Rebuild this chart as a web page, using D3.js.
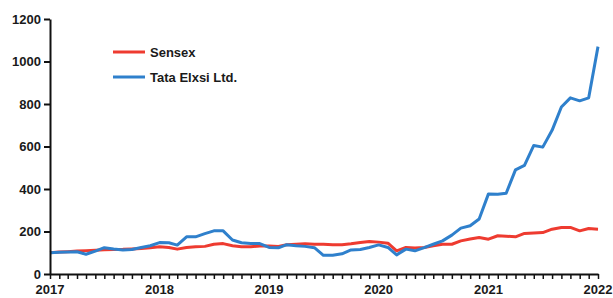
<!DOCTYPE html>
<html>
<head>
<meta charset="utf-8">
<script src="https://cdn.jsdelivr.net/npm/d3@7"></script>
<style>
  body { margin: 0; background: #fff; }
  svg text { font-family: "Liberation Sans", Arial, sans-serif; font-weight: bold; fill: #1a1a1a; }
</style>
</head>
<body>
<div id="chart"></div>
<script>
// monthly points, Jan 2017 .. Jan 2022 (rebased to 100)
const startMonth = new Date(2017, 0, 1)

const sensex = [
  100, 103, 105, 108, 110, 112, 114, 115, 116, 118, 120, 124,
  128, 125, 117, 125, 128, 130, 140, 143, 133, 128, 128, 132,
  132, 130, 138, 140, 142, 140, 140, 138, 138, 142, 148, 153,
  150, 145, 109, 125, 122, 125, 133, 140, 140, 156, 165, 172,
  164, 180, 178, 175, 191, 193, 195, 211, 219, 219, 203, 214,
  211
]

const tataElxsi = [
  100, 102, 103, 105, 93, 108, 124, 118, 113, 115, 125, 133,
  148, 147, 136, 175, 175, 190, 203, 203, 160, 147, 143, 143,
  125, 123, 138, 133, 130, 124, 88, 88, 95, 113, 115, 125,
  137, 125, 90, 117, 109, 124, 140, 156, 183, 216, 227, 259,
  377, 375, 380, 490, 511, 605, 597, 676, 786, 829, 815, 829,
  1070
]

const seriesNames = ["Sensex", "Tata Elxsi Ltd."]
const yTicks = [0, 200, 400, 600, 800, 1000, 1200]
const yearTicks = [2017, 2018, 2019, 2020, 2021, 2022]

// accessors
const monthDate = i => d3.timeMonth.offset(startMonth, i)

const series = [
  { name: seriesNames[0], values: sensex, color: "#ee3b30" },
  { name: seriesNames[1], values: tataElxsi, color: "#2f80cc" },
]

// dimensions
let dimensions = {
  width: 613,
  height: 298,
  margin: { top: 19, right: 15, bottom: 24, left: 50 },
}
dimensions.boundedWidth = dimensions.width - dimensions.margin.left - dimensions.margin.right
dimensions.boundedHeight = dimensions.height - dimensions.margin.top - dimensions.margin.bottom

const wrapper = d3.select("#chart")
  .append("svg")
    .attr("width", dimensions.width)
    .attr("height", dimensions.height)

const bounds = wrapper.append("g")
  .attr("transform", `translate(${dimensions.margin.left},${dimensions.margin.top})`)

// scales
const xScale = d3.scaleTime()
  .domain([startMonth, monthDate(60)])
  .range([0, dimensions.boundedWidth])

const yScale = d3.scaleLinear()
  .domain([0, 1200])
  .range([dimensions.boundedHeight, 0])

// lines
const lineGenerator = d3.line()
  .x((d, i) => xScale(monthDate(i)))
  .y(d => yScale(d))

bounds.selectAll(".series")
  .data(series)
  .enter().append("path")
    .attr("class", "series")
    .attr("d", d => lineGenerator(d.values))
    .attr("fill", "none")
    .attr("stroke", d => d.color)
    .attr("stroke-width", 3)
    .attr("stroke-linejoin", "round")

// y axis
const yAxis = bounds.append("g")
  .call(d3.axisLeft(yScale).tickValues(yTicks).tickFormat(d3.format("d"))
    .tickSize(6).tickSizeOuter(0).tickPadding(3))
yAxis.select(".domain").attr("stroke", "#111").attr("stroke-width", 2)
yAxis.selectAll(".tick line").attr("stroke", "#111").attr("stroke-width", 2)
yAxis.selectAll("text").style("font-size", "13px")

// x axis: month ticks, year labels
const xAxis = bounds.append("g")
  .attr("transform", `translate(0,${dimensions.boundedHeight})`)
  .call(d3.axisBottom(xScale).ticks(d3.timeMonth.every(1)).tickSize(5).tickSizeOuter(0).tickFormat(""))
xAxis.select(".domain").attr("stroke", "#111").attr("stroke-width", 2)
xAxis.selectAll(".tick line").attr("stroke", "#111").attr("stroke-width", 1.5)

bounds.append("g")
  .selectAll("text")
  .data(yearTicks)
  .enter().append("text")
    .attr("x", d => xScale(new Date(d, 0, 1)))
    .attr("y", dimensions.boundedHeight + 20)
    .attr("text-anchor", "middle")
    .style("font-size", "13px")
    .text(d => d)

// legend
const legend = wrapper.append("g")
  .attr("transform", "translate(113,52)")

const legendItems = legend.selectAll("g")
  .data(series)
  .enter().append("g")
    .attr("transform", (d, i) => `translate(0,${i * 25})`)

legendItems.append("line")
  .attr("x1", 0).attr("x2", 32)
  .attr("stroke", d => d.color)
  .attr("stroke-width", 3)

legendItems.append("text")
  .attr("x", 37)
  .attr("dy", "0.35em")
  .style("font-size", "13px")
  .text(d => d.name)
</script>
</body>
</html>
